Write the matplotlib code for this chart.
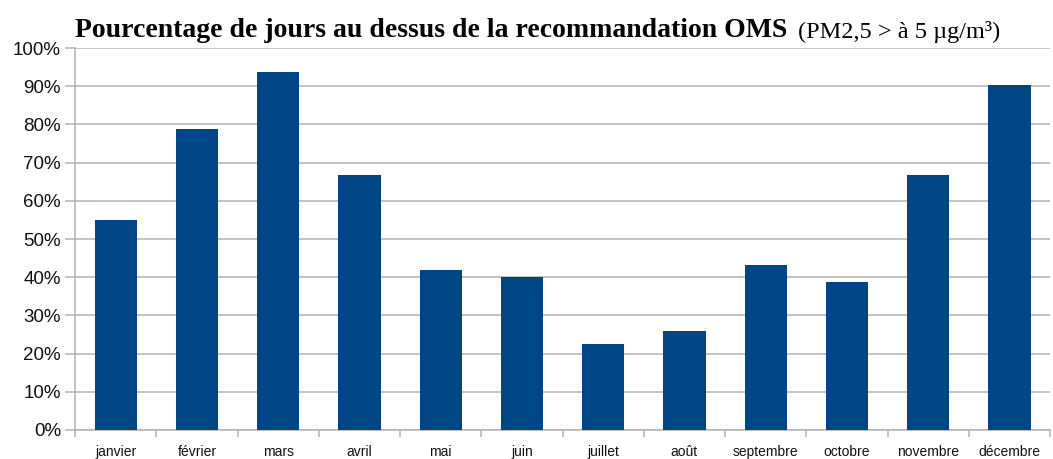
import matplotlib
matplotlib.use("Agg")
import matplotlib.pyplot as plt
import numpy as np
from matplotlib.ticker import FixedLocator, PercentFormatter

months = ["janvier", "février", "mars", "avril", "mai", "juin", "juillet",
          "août", "septembre", "octobre", "novembre", "décembre"]
values = [55.0, 78.8, 93.6, 66.7, 42.0, 40.0, 22.6, 25.8, 43.3, 38.7, 66.7, 90.3]
yticks = [0, 10, 20, 30, 40, 50, 60, 70, 80, 90, 100]

fig = plt.figure(figsize=(10.53, 4.59), dpi=100)
ax = fig.add_axes([75/1053, 29/459, (1050-75)/1053, (430-48)/459])

x = np.arange(len(months))
ax.bar(x, values, width=0.52, color="#004586", zorder=3)

ax.set_xlim(-0.5, len(months) - 0.5)
ax.set_ylim(0, 100)
ax.yaxis.set_major_locator(FixedLocator(yticks))
ax.yaxis.set_major_formatter(PercentFormatter(decimals=0))
ax.grid(axis="y", color="#b3b3b3", linewidth=1.1, zorder=0)

ax.set_xticks(x)
ax.set_xticklabels(months, fontsize=10, family="Liberation Sans", color="#111111")
ax.set_xticks(np.arange(-0.5, len(months) + 0.5, 1), minor=True)
ax.tick_params(axis="x", which="major", length=0, pad=10.5)
ax.tick_params(axis="x", which="minor", length=5, color="#b3b3b3", width=1.1)
ax.tick_params(axis="y", length=7, color="#b3b3b3", width=1.1, labelsize=13.5, pad=3)
for lab in ax.get_yticklabels():
    lab.set_family("Liberation Sans")
    lab.set_color("#111111")

for s in ["top", "right"]:
    ax.spines[s].set_visible(False)
for s in ["left", "bottom"]:
    ax.spines[s].set_color("#b3b3b3")
    ax.spines[s].set_linewidth(1.1)

t1 = fig.text(75/1053, 1 - 37/459, "Pourcentage de jours au dessus de la recommandation OMS",
              fontsize=20, fontweight="bold", family="Liberation Serif", va="baseline", ha="left")
fig.canvas.draw()
ax.annotate("(PM2,5 > à 5 µg/m³)", xy=(1, 0), xycoords=t1, xytext=(8, 0),
            textcoords="offset points", fontsize=17.5, family="Liberation Serif",
            va="bottom", ha="left")

fig.savefig("out.png", dpi=100)
